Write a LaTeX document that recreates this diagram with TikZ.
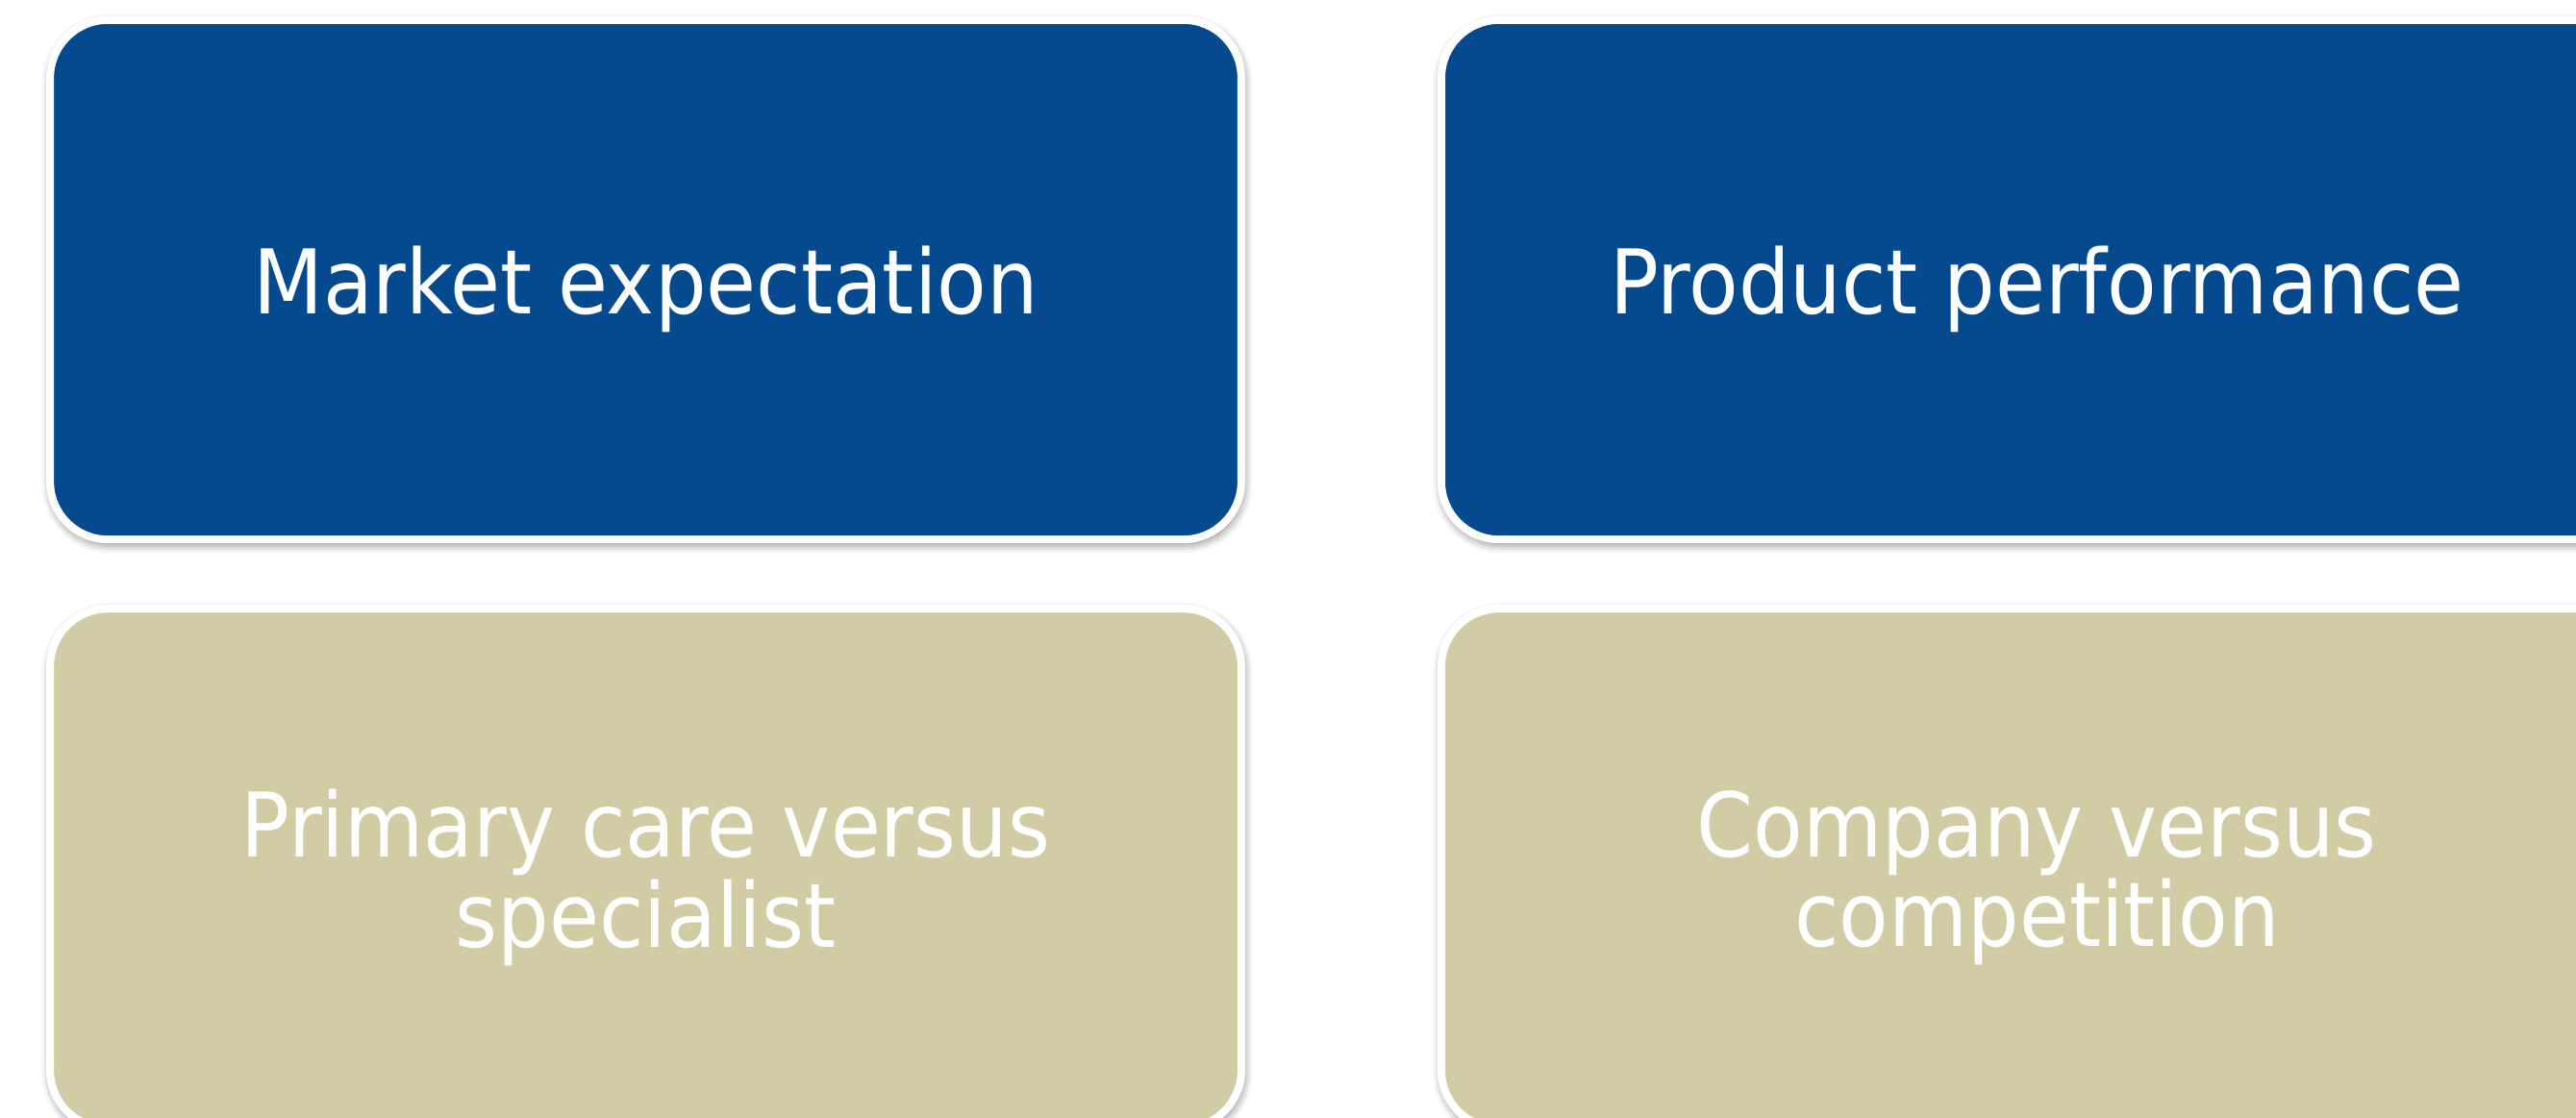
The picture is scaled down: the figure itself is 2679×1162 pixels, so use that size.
\documentclass[tikz,border=0pt]{standalone}
\usepackage{fontspec}
\newfontfamily\tilefont{DejaVu Sans}
\newcommand\narrow[1]{\scalebox{0.91}[1]{#1}}
\usetikzlibrary{positioning,shadows.blur}
\definecolor{tileblue}{RGB}{5,73,142}
\definecolor{tiletan}{RGB}{209,204,163}

\begin{document}
\begin{tikzpicture}[x=0.01cm, y=-0.01cm, node distance=0.72cm and 2.08cm,
    tile/.style = {draw=white, line width=0.08cm, rounded corners=0.6cm,
      minimum width=12.38cm, minimum height=5.4cm, inner sep=0pt, outer sep=0pt,
      align=center, text=white, text depth=0pt,
      font=\tilefont\fontsize{26.4}{24.2}\selectfont,
      blur shadow={shadow xshift=0.015cm, shadow yshift=-0.04cm,
        shadow blur radius=0.1cm, shadow opacity=60}},
    bluetile/.style = {tile, fill=tileblue},
    tantile/.style = {tile, fill=tiletan}]
  \useasboundingbox (0,0) rectangle (2679,1162);
  \node[bluetile] (market) at (671.5,291) {\narrow{Market expectation}};
  \node[bluetile] (product) [right=of market] {\narrow{Product performance}};
  \node[tantile] (primary) [below=of market] {\narrow{Primary care versus}\\ \narrow{specialist}};
  \node[tantile] (company) [below=of product] {\narrow{Company versus}\\ \narrow{competition}};
\end{tikzpicture}
\end{document}
